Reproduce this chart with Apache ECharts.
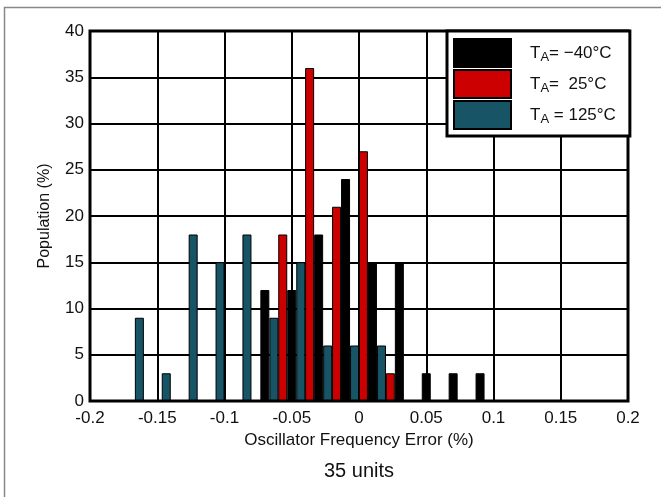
<!DOCTYPE html>
<html>
<head>
<meta charset="utf-8">
<script src="https://cdn.jsdelivr.net/npm/echarts@6/dist/echarts.min.js"></script>
<style>
  html, body { margin: 0; padding: 0; background: #fff; }
  #chart { width: 661px; height: 497px; }
</style>
</head>
<body>
<div id="chart"></div>
<script>
// Histogram of oscillator frequency error, 35 units at three temperatures.
const FONT = 'Arial, "Liberation Sans", sans-serif';

// Bin centres (% error) and population (%) per temperature
const binsCold = [-0.07, -0.05, -0.03, -0.01, 0.01, 0.03, 0.05, 0.07, 0.09];
const popCold = [12, 12, 18, 24, 15, 15, 3, 3, 3];

const binsRoom = [-0.0567, -0.0367, -0.0167, 0.0033, 0.0233];
const popRoom = [18, 36, 21, 27, 3];

const binsHot = [-0.1633, -0.1433, -0.1233, -0.1033, -0.0833, -0.0633, -0.0433, -0.0233, -0.0033, 0.0167];
const popHot = [9, 3, 18, 15, 18, 9, 15, 6, 6, 6];

// Legend entries: plain prefix, subscript, remainder
const seriesNames = ['-40', '25', '125'];
const legendLabels = {
  '-40': '{t|T}{s|A}{t|= \u221240°C}',
  '25': '{t|T}{s|A}{t|=  25°C}',
  '125': '{t|T}{s|A}{t| = 125°C}'
};
const seriesColors = ['#000000', '#cc0000', '#165466'];

// Axis ranges and steps
const xMin = -0.2, xMax = 0.2, xStep = 0.05;
const yMin = 0, yMax = 40, yStep = 5;

function pairs(xs, ys) {
  return xs.map((x, i) => [x, ys[i]]);
}

const seriesData = [pairs(binsCold, popCold), pairs(binsRoom, popRoom), pairs(binsHot, popHot)];

const chart = echarts.init(document.getElementById('chart'), null, { renderer: 'canvas' });

chart.setOption({
  animation: false,
  backgroundColor: '#ffffff',
  textStyle: { fontFamily: FONT },
  grid: {
    left: 90, right: 33, top: 31, bottom: 96,
    show: true, borderColor: '#000', borderWidth: 3, backgroundColor: 'transparent', z: 5
  },
  xAxis: {
    type: 'value',
    min: xMin, max: xMax, interval: xStep,
    name: 'Oscillator Frequency Error (%)',
    nameLocation: 'middle',
    nameGap: 29,
    nameTextStyle: { fontSize: 17, color: '#111', fontFamily: FONT },
    axisLine: { show: false },
    axisTick: { show: false },
    axisLabel: { fontSize: 17, color: '#111', margin: 9, fontFamily: FONT },
    splitLine: { show: true, lineStyle: { color: '#000', width: 2 } }
  },
  yAxis: {
    type: 'value',
    min: yMin, max: yMax, interval: yStep,
    name: 'Population (%)',
    nameLocation: 'middle',
    nameGap: 37,
    nameTextStyle: { fontSize: 16, color: '#111', fontFamily: FONT },
    axisLine: { show: false },
    axisTick: { show: false },
    axisLabel: { fontSize: 17, color: '#111', margin: 6, fontFamily: FONT },
    splitLine: { show: true, lineStyle: { color: '#000', width: 2 } }
  },
  legend: {
    orient: 'vertical',
    left: 447, top: 31,
    itemWidth: 57, itemHeight: 28, itemGap: 1,
    padding: [7, 14, 6, 6],
    backgroundColor: '#ffffff',
    borderColor: '#000', borderWidth: 3,
    icon: 'rect',
    z: 10,
    data: seriesNames,
    formatter: name => legendLabels[name],
    textStyle: {
      color: '#111',
      fontFamily: FONT,
      padding: [0, 0, 0, 14],
      rich: {
        t: { fontSize: 17, lineHeight: 22, fontFamily: FONT, color: '#111', verticalAlign: 'middle' },
        s: { fontSize: 13, lineHeight: 22, fontFamily: FONT, color: '#111', verticalAlign: 'bottom', padding: [9, 0, 0, 0] }
      }
    }
  },
  graphic: [
    {
      type: 'polyline',
      shape: { points: [[4.5, 497], [4.5, 7.5], [661, 7.5]] },
      style: { stroke: '#888', lineWidth: 1.5, fill: null },
      silent: true
    },
    {
      type: 'text',
      x: 359, y: 471,
      style: {
        text: '35 units',
        font: '20px ' + FONT,
        fill: '#111',
        textAlign: 'center',
        textVerticalAlign: 'middle'
      },
      silent: true
    }
  ],
  series: seriesNames.map((name, i) => ({
    name: name,
    type: 'bar',
    data: seriesData[i],
    barWidth: 9,
    barGap: '-100%',
    itemStyle: { color: seriesColors[i], borderColor: '#000', borderWidth: 1 },
    z: 3
  }))
});
</script>
</body>
</html>
